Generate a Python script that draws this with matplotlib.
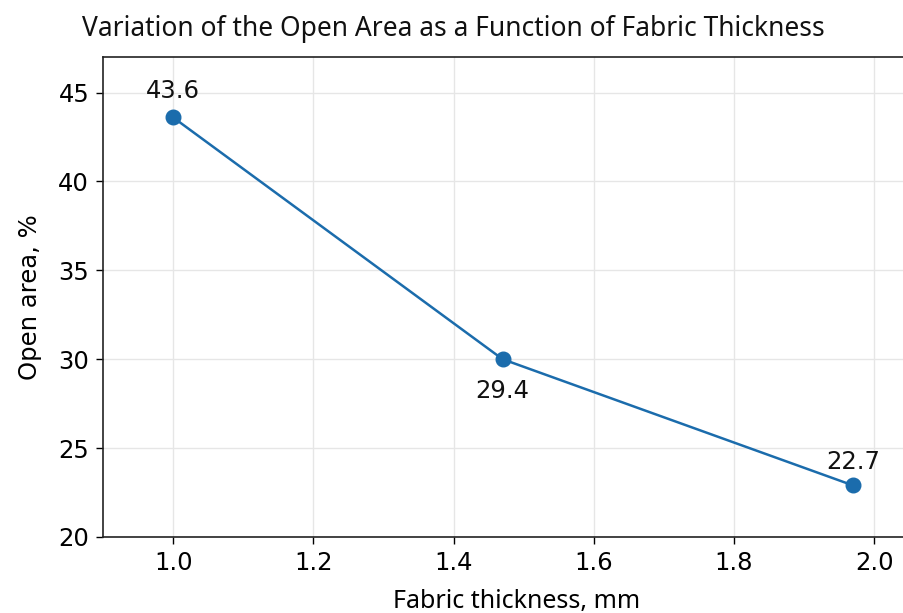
import matplotlib
matplotlib.use("Agg")
import matplotlib.pyplot as plt

plt.rcParams["font.family"] = ["DejaVu Sans"]

thickness = [1.0, 1.47, 1.97]
open_area = [43.6, 30.0, 22.9]
point_labels = ["43.6", "29.4", "22.7"]
label_offsets = [(0, 19), (0, -23), (0, 17)]

xticks = [1.0, 1.2, 1.4, 1.6, 1.8, 2.0]
yticks = [20, 25, 30, 35, 40, 45]

fig = plt.figure(figsize=(9.04, 6.13), dpi=100)
ax = fig.add_axes([0.114, 0.124, 0.915, 0.783])

color = "#1b6cac"
ax.plot(thickness, open_area, color=color, lw=1.8, marker="o", ms=10.5, zorder=3)
for x, y, t, off in zip(thickness, open_area, point_labels, label_offsets):
    ax.annotate(t, (x, y), xytext=off, textcoords="offset points",
                ha="center", va="center", fontsize=17.5, color="#111111",
                family="DejaVu Sans")

ax.set_xlim(0.9, 2.08)
ax.set_ylim(20, 47)
ax.set_xticks(xticks)
ax.set_xticklabels([f"{v:.1f}" for v in xticks])
ax.set_yticks(yticks)
ax.tick_params(labelsize=17.5, length=5, width=1, direction="out", pad=5)
for lab in ax.get_xticklabels() + ax.get_yticklabels():
    lab.set_family("DejaVu Sans")
ax.grid(True, color="#e6e6e6", lw=1)
ax.set_axisbelow(True)
for s in ["left", "bottom", "top"]:
    ax.spines[s].set_color("#222222")
    ax.spines[s].set_linewidth(1.2)
ax.spines["right"].set_visible(False)

ax.set_xlabel("Fabric thickness, mm", fontsize=18, labelpad=10, family="Noto Sans")
ax.set_ylabel("Open area, %", fontsize=17.5, labelpad=12, family="DejaVu Sans")
fig.text(0.502, 0.953, "Variation of the Open Area as a Function of Fabric Thickness",
         ha="center", va="center", fontsize=19, color="#111111", family="Noto Sans")

fig.savefig("out.png", dpi=100)
